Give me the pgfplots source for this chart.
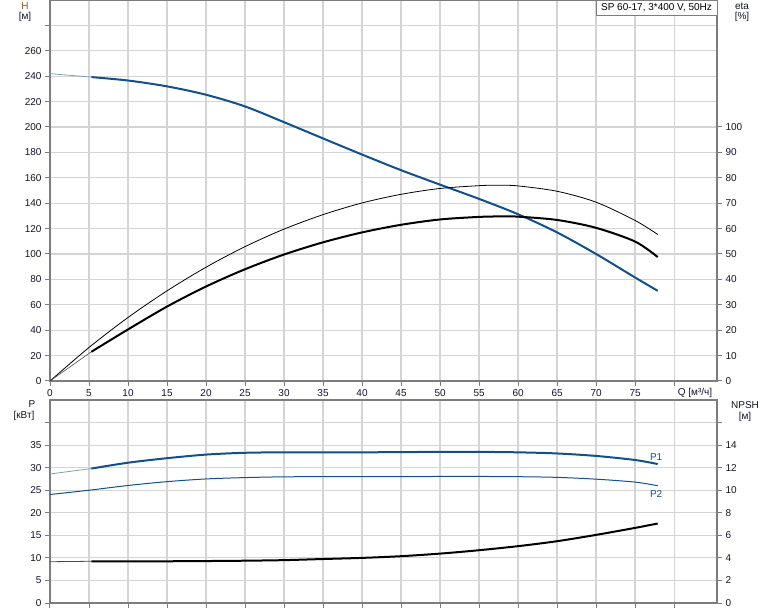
\documentclass[border=0pt]{standalone}
\usepackage{fontspec}
\setmainfont{Liberation Sans}
\usepackage{pgfplots}
\pgfplotsset{compat=1.18}
\definecolor{gblue}{RGB}{16,80,140}
\definecolor{gridc}{RGB}{212,212,212}
\definecolor{axc}{RGB}{125,125,125}
\definecolor{lbl}{RGB}{20,20,40}
\definecolor{hcol}{RGB}{165,85,30}
\pgfplotsset{
  base/.style={scale only axis, width=667pt, xmin=0, xmax=85.5,
    axis line style={axc, line width=1.5pt},
    tick style={axc, line width=1pt},
    tick align=outside, major tick length=5pt,
    tick label style={font=\fontsize{10}{12}\selectfont, text=lbl},
    /pgf/number format/assume math mode=true,
    xtick={0,5,...,80},
    grid style={gridc, line width=1.2pt},
  },
}
\begin{document}
\begin{tikzpicture}
\path[use as bounding box] (0,0) rectangle (774pt,611pt);
% ---------- top panel: H ----------
\begin{axis}[base, at={(50pt,230pt)}, anchor=south west, height=381pt,
  ymin=0, ymax=300, ytick={0,20,...,280},
  yticklabels={0,20,40,60,80,100,120,140,160,180,200,220,240,260,{}},
  xticklabels={0,5,10,15,20,25,30,35,40,45,50,55,60,65,70,75,{}},
  xtick pos=bottom, ytick pos=left, grid=major]
\addplot[gblue!55, line width=0.8pt] coordinates {(0,242)(5.3,239.3)};
\addplot[gblue, line width=2pt, smooth] coordinates {
(5.3,239.3)(10,236.6)(15,232)(20,225.4)(25,216.2)(30,203.8)(35,191)(40,178.3)
(45,166)(50,154.6)(55,143.4)(60,131.3)(65,117)(70,100)(75,81.5)(77.9,71)};
\end{axis}
% ---------- top panel: eta ----------
\begin{axis}[base, at={(50pt,230pt)}, anchor=south west, height=381pt,
  ymin=0, ymax=150, ytick={0,10,...,100},
  axis y line*=right, axis x line=none]
\addplot[black, line width=0.8pt, smooth] coordinates {
(0,0)(5,13.2)(10,25.0)(15,35.5)(20,44.8)(25,52.9)(30,59.8)(35,65.5)(40,70.1)
(45,73.5)(50,75.8)(55,76.9)(57.5,77.1)(60,76.8)(65,74.7)(70,70.4)(75,63.2)(77.9,57.7)};
\addplot[black!70, line width=0.6pt] coordinates {(0,0)(5.3,11.5)};
\addplot[black, line width=2pt, smooth] coordinates {
(5.3,11.5)(10,20.3)(15,29.3)(20,37.2)(25,44.0)(30,49.8)(35,54.6)(40,58.5)
(45,61.5)(50,63.6)(55,64.6)(58,64.8)(60,64.7)(65,63.4)(70,60.3)(75,54.9)(77.9,48.8)};
\end{axis}
% ---------- bottom panel: P ----------
\begin{axis}[base, at={(50pt,8pt)}, anchor=south west, height=203pt,
  ymin=0, ymax=45, ytick={0,5,...,40},
  yticklabels={0,5,10,15,20,25,30,35,{}},
  xticklabels={}, xtick pos=bottom, ytick pos=left, grid=major]
\addplot[gblue!55, line width=0.8pt] coordinates {(0,28.6)(5.3,29.8)};
\addplot[gblue, line width=2pt, smooth] coordinates {
(5.3,29.8)(10,31.1)(15,32.1)(20,32.9)(25,33.3)(30,33.4)(35,33.4)(40,33.4)
(45,33.45)(50,33.5)(55,33.5)(60,33.4)(65,33.15)(70,32.6)(75,31.7)(77.9,30.8)};
\addplot[gblue, line width=1pt, smooth] coordinates {
(0,24.05)(5,25.0)(10,26.05)(15,26.9)(20,27.5)(25,27.8)(30,27.97)(35,28.0)(40,28.0)
(45,28.0)(50,28.05)(55,28.05)(60,28.0)(65,27.85)(70,27.45)(75,26.8)(77.9,26.0)};
\node[text=gblue, font=\fontsize{10}{12}\selectfont] at (axis cs:77.7,32.4) {P1};
\node[text=gblue, font=\fontsize{10}{12}\selectfont] at (axis cs:77.7,24.2) {P2};
\end{axis}
% ---------- bottom panel: NPSH ----------
\begin{axis}[base, at={(50pt,8pt)}, anchor=south west, height=203pt,
  ymin=0, ymax=18, ytick={0,2,...,16},
  yticklabels={0,2,4,6,8,10,12,14,{}},
  axis y line*=right, axis x line=none]
\addplot[black!70, line width=0.8pt] coordinates {(0,3.66)(5.3,3.7)};
\addplot[black, line width=2pt, smooth] coordinates {
(5.3,3.7)(10,3.7)(15,3.7)(20,3.72)(25,3.75)(30,3.8)(35,3.9)(40,4.0)
(45,4.15)(50,4.38)(55,4.68)(60,5.04)(65,5.48)(70,6.04)(75,6.66)(77.9,7.05)};
\end{axis}
% ---------- titles ----------
\begin{scope}[every node/.style={font=\fontsize{10}{12}\selectfont, inner sep=0pt}]
\node[text=hcol] at (25pt,605pt) {H};
\node[text=lbl] at (25pt,594pt) {[м]};
\node[text=lbl] at (742pt,605pt) {eta};
\node[text=lbl] at (742pt,594pt) {[\%]};
\node[text=lbl] at (32pt,207pt) {P};
\node[text=lbl] at (24pt,195pt) {[кВт]};
\node[text=lbl] at (745pt,206pt) {NPSH};
\node[text=lbl] at (745pt,194pt) {[м]};
\node[text=lbl] at (695pt,218pt) {Q [м³/ч]};
\node[draw=axc, fill=white, line width=0.8pt, minimum width=121pt, minimum height=15pt, text=black]
  at (656.5pt,603.5pt) {SP 60-17, 3*400 V, 50Hz};
\end{scope}
\end{tikzpicture}
\end{document}
